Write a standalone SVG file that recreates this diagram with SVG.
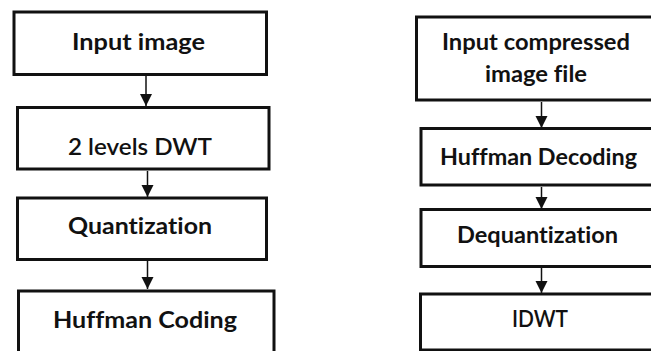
<svg xmlns="http://www.w3.org/2000/svg" width="651" height="351" viewBox="0 0 651 351">
<style>
.box{fill:#fff;stroke:#111;stroke-width:3}
.t{font-family:Lato,"Open Sans","Liberation Sans",sans-serif;font-size:23px;font-weight:700;fill:#111;font-variant-ligatures:none}
.n{font-weight:600}
.c{stroke:#111;stroke-width:1.5;fill:none}
</style>
<defs>
<marker id="ah" markerUnits="userSpaceOnUse" markerWidth="12" markerHeight="14" refX="12" refY="6" orient="auto">
<path d="M0,0 L12,6 L0,12 Z" fill="#111"/>
</marker>
</defs>
<rect width="651" height="351" fill="#fff"/>
<g id="connectors">
<line class="c" x1="146" y1="76" x2="146" y2="106" marker-end="url(#ah)"/>
<line class="c" x1="147.5" y1="171" x2="147.5" y2="197" marker-end="url(#ah)"/>
<line class="c" x1="147.5" y1="261" x2="147.5" y2="289" marker-end="url(#ah)"/>
<line class="c" x1="541.5" y1="102" x2="541.5" y2="128" marker-end="url(#ah)"/>
<line class="c" x1="541.5" y1="187" x2="541.5" y2="209" marker-end="url(#ah)"/>
<line class="c" x1="541.5" y1="268" x2="541.5" y2="293" marker-end="url(#ah)"/>
</g>
<g id="input-image">
<rect class="box" x="14" y="12" width="252.5" height="62.5"/>
<text class="t" x="72" y="50" textLength="133" lengthAdjust="spacingAndGlyphs">Input image</text>
</g>
<g id="dwt">
<rect class="box" x="17.5" y="107.5" width="251.5" height="61.5"/>
<text class="t n" x="68" y="155" textLength="144" lengthAdjust="spacingAndGlyphs">2 levels DWT</text>
</g>
<g id="quantization">
<rect class="box" x="17.5" y="198" width="249" height="61.5"/>
<text class="t" x="68" y="234" textLength="144" lengthAdjust="spacingAndGlyphs">Quantization</text>
</g>
<g id="huffman-coding">
<rect class="box" x="18.5" y="291" width="255.5" height="80"/>
<text class="t" x="53" y="328" textLength="184" lengthAdjust="spacingAndGlyphs">Huffman Coding</text>
</g>
<g id="input-compressed">
<rect class="box" x="416.5" y="17" width="240" height="83"/>
<text class="t" x="442" y="50" textLength="188" lengthAdjust="spacingAndGlyphs">Input compressed</text>
<text class="t" x="485" y="82" textLength="102" lengthAdjust="spacingAndGlyphs">image file</text>
</g>
<g id="huffman-decoding">
<rect class="box" x="421" y="128.5" width="240" height="56.5"/>
<text class="t" x="440" y="165" textLength="197" lengthAdjust="spacingAndGlyphs">Huffman Decoding</text>
</g>
<g id="dequantization">
<rect class="box" x="421" y="209.5" width="240" height="57"/>
<text class="t" x="457" y="243" textLength="161" lengthAdjust="spacingAndGlyphs">Dequantization</text>
</g>
<g id="idwt">
<rect class="box" x="420.5" y="294" width="240" height="56"/>
<text class="t n" x="512" y="327" textLength="56" lengthAdjust="spacingAndGlyphs">IDWT</text>
</g>
</svg>
